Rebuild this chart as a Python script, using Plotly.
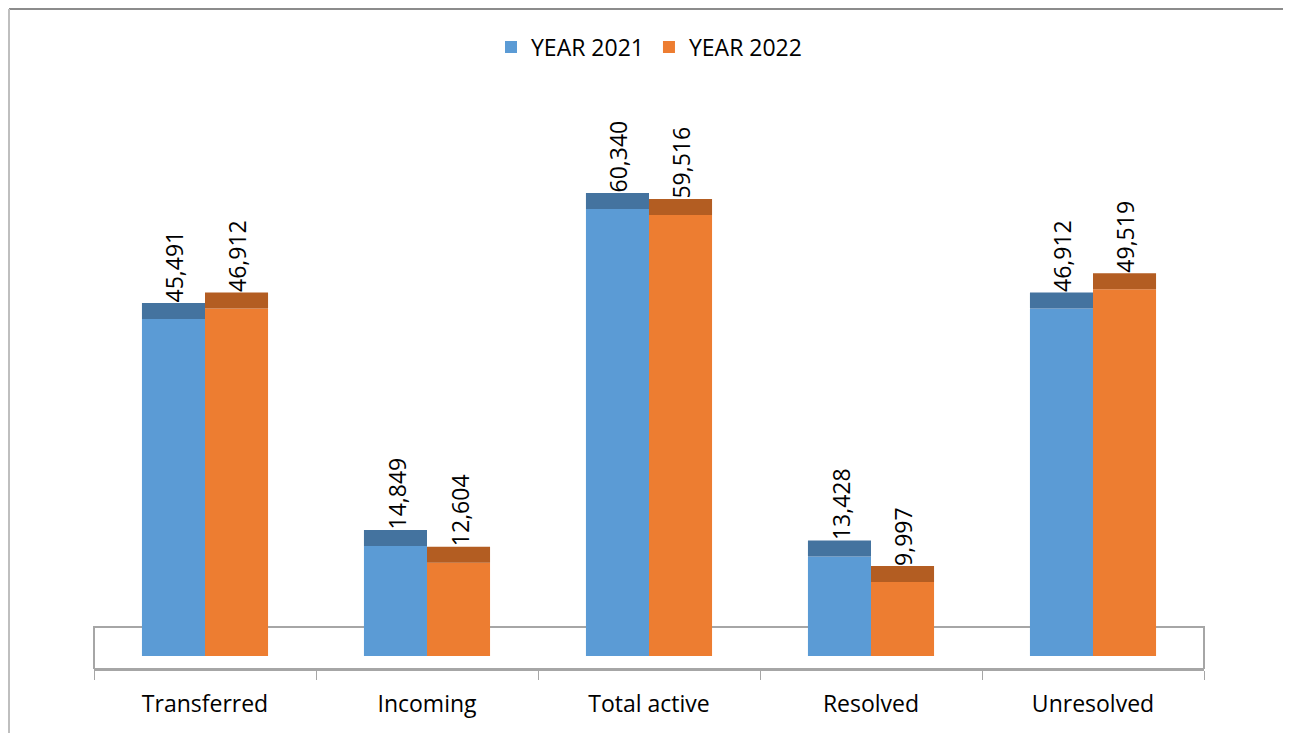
import plotly.graph_objects as go

categories = ["Transferred", "Incoming", "Total active", "Resolved", "Unresolved"]
year_2021 = [45491, 14849, 60340, 13428, 46912]
year_2022 = [46912, 12604, 59516, 9997, 49519]
series_names = ["YEAR 2021", "YEAR 2022"]

# Layout geometry (page pixels; the page body adds an 8px offset)
OFF = 8
W, H = 1291 - OFF, 733 - OFF
plot_left, plot_right = 94 - OFF, 1204 - OFF
plot_top, plot_bottom = 80 - OFF, 669 - OFF
zero_px = 656 - OFF
px_per_unit = 110 / 14849.0
cap_px = 16
floor_top_px = 627 - OFF
bar_px = 63

plot_h = plot_bottom - plot_top
ymin = -(plot_bottom - zero_px) / px_per_unit
ymax = ymin + plot_h / px_per_unit
cap_units = cap_px / px_per_unit
floor_top_units = (zero_px - floor_top_px) / px_per_unit

front_colors = ["#5B9BD5", "#ED7D31"]
cap_colors = ["#44739F", "#B35D22"]
font_family = "Open Sans"

fig = go.Figure()
annotations = []
for i, (name, vals) in enumerate(zip(series_names, [year_2021, year_2022])):
    fig.add_trace(go.Bar(
        x=categories, y=vals, name=name, offsetgroup=str(i),
        marker=dict(color=front_colors[i], line=dict(width=0)),
        showlegend=True,
    ))
    fig.add_trace(go.Bar(
        x=categories, y=[cap_units] * len(vals), base=vals, offsetgroup=str(i),
        marker=dict(color=cap_colors[i], line=dict(width=0)),
        showlegend=False, hoverinfo="skip",
    ))
    shift = (i - 0.5) * bar_px
    for c, v in zip(categories, vals):
        annotations.append(dict(
            x=c, y=v + cap_units, xref="x", yref="y", text=f"{v:,}",
            textangle=-90, showarrow=False, xanchor="center", yanchor="bottom",
            xshift=shift + 1, yshift=-2,
            font=dict(family=font_family, size=23, color="#000000"),
        ))

def px_to_paper_x(px):
    return (px - OFF - plot_left) / (plot_right - plot_left)

def px_to_paper_y(py):
    return (plot_bottom - (py - OFF)) / (plot_bottom - plot_top)

shapes = [
    dict(type="rect", xref="paper", yref="y", x0=0, x1=1, y0=ymin, y1=floor_top_units,
         line=dict(color="#A6A6A6", width=2), fillcolor="rgba(0,0,0,0)", layer="below"),
    dict(type="line", xref="paper", yref="paper",
         x0=px_to_paper_x(9), x1=px_to_paper_x(1288), y0=px_to_paper_y(9), y1=px_to_paper_y(9),
         line=dict(color="#8C8C8C", width=2)),
    dict(type="line", xref="paper", yref="paper",
         x0=px_to_paper_x(9), x1=px_to_paper_x(9), y0=px_to_paper_y(9), y1=px_to_paper_y(733),
         line=dict(color="#BFBFBF", width=2)),
    dict(type="line", xref="paper", yref="paper",
         x0=px_to_paper_x(1288), x1=px_to_paper_x(1288), y0=px_to_paper_y(9), y1=px_to_paper_y(733),
         line=dict(color="#BFBFBF", width=2)),
]

fig.update_layout(
    width=W, height=H,
    margin=dict(l=plot_left, r=W - plot_right, t=plot_top, b=H - plot_bottom, autoexpand=False),
    barmode="group", bargap=0.432, bargroupgap=0,
    paper_bgcolor="white", plot_bgcolor="white",
    font=dict(family=font_family, size=23, color="#000000"),
    legend=dict(orientation="h", x=0.5, xanchor="center", y=px_to_paper_y(47), yanchor="middle",
                font=dict(family=font_family, size=23), traceorder="normal",
                itemwidth=30, bgcolor="rgba(0,0,0,0)"),
    xaxis=dict(showgrid=False, zeroline=False, showline=True, linecolor="#A6A6A6", linewidth=2,
               ticks="outside", tickson="boundaries", ticklen=9, tickcolor="#A6A6A6", tickwidth=1,
               tickfont=dict(family=font_family, size=23), ticklabelstandoff=13),
    yaxis=dict(visible=False, range=[ymin, ymax], showgrid=False, zeroline=False),
    shapes=shapes,
    annotations=annotations,
)

fig.write_html("out.html")
